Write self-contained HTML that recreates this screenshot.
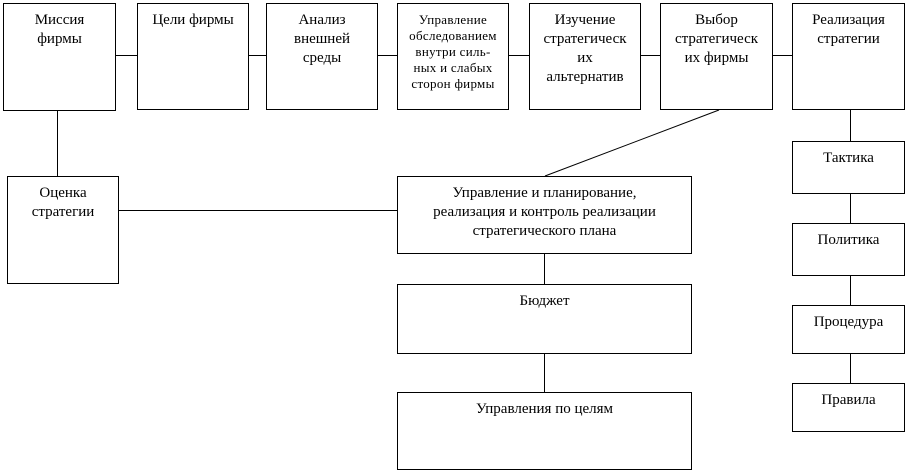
<!DOCTYPE html><html><head><style>
body{margin:0;width:907px;height:473px;background:#fff;position:relative;font-family:"Liberation Serif","Noto Serif CJK SC",serif;overflow:hidden}
.b{position:absolute;border:1px solid #000;box-sizing:border-box;text-align:center;font-size:15px;line-height:19px;padding-top:7px;background:#fff;white-space:nowrap}
svg{position:absolute;left:0;top:0}
</style></head><body>
<svg width="907" height="473"><g stroke="#000" stroke-width="1">
<line x1="115" y1="55.5" x2="137" y2="55.5"/><line x1="248" y1="55.5" x2="266" y2="55.5"/><line x1="377" y1="55.5" x2="397" y2="55.5"/><line x1="508" y1="55.5" x2="529" y2="55.5"/><line x1="640" y1="55.5" x2="660" y2="55.5"/><line x1="772" y1="55.5" x2="792" y2="55.5"/>
<line x1="57.5" y1="110" x2="57.5" y2="176"/><line x1="118" y1="210.5" x2="397" y2="210.5"/>
<line x1="719" y1="110" x2="545" y2="176"/>
<line x1="544.5" y1="253" x2="544.5" y2="284"/><line x1="544.5" y1="353" x2="544.5" y2="392"/>
<line x1="850.5" y1="110" x2="850.5" y2="141"/><line x1="850.5" y1="193" x2="850.5" y2="223"/><line x1="850.5" y1="275" x2="850.5" y2="305"/><line x1="850.5" y1="353" x2="850.5" y2="383"/>
</g></svg>
<div class="b" style="left:3px;top:3px;width:113px;height:108px">Миссия<br>фирмы</div>
<div class="b" style="left:137px;top:3px;width:112px;height:107px">Цели фирмы</div>
<div class="b" style="left:266px;top:3px;width:112px;height:107px">Анализ<br>внешней<br>среды</div>
<div class="b" style="left:397px;top:3px;width:112px;height:107px;font-size:13px;line-height:16px;padding-top:8px;letter-spacing:0.3px">Управление<br>обследованием<br>внутри силь-<br>ных и слабых<br>сторон фирмы</div>
<div class="b" style="left:529px;top:3px;width:112px;height:107px">Изучение<br>стратегическ<br>их<br>альтернатив</div>
<div class="b" style="left:660px;top:3px;width:113px;height:107px">Выбор<br>стратегическ<br>их фирмы</div>
<div class="b" style="left:792px;top:3px;width:113px;height:107px">Реализация<br>стратегии</div>
<div class="b" style="left:7px;top:176px;width:112px;height:108px">Оценка<br>стратегии</div>
<div class="b" style="left:397px;top:176px;width:295px;height:78px">Управление и планирование,<br>реализация и контроль реализации<br>стратегического плана</div>
<div class="b" style="left:397px;top:284px;width:295px;height:70px">Бюджет</div>
<div class="b" style="left:397px;top:392px;width:295px;height:78px">Управления по целям</div>
<div class="b" style="left:792px;top:141px;width:113px;height:53px">Тактика</div>
<div class="b" style="left:792px;top:223px;width:113px;height:53px">Политика</div>
<div class="b" style="left:792px;top:305px;width:113px;height:49px">Процедура</div>
<div class="b" style="left:792px;top:383px;width:113px;height:49px">Правила</div>
</body></html>
